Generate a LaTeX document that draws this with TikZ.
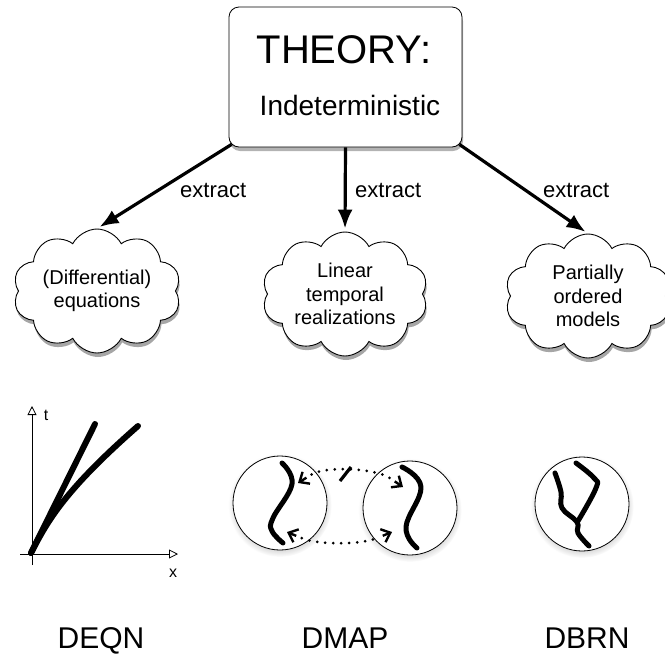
\documentclass[tikz,border=0pt]{standalone}
\usepackage{fontspec}
\setmainfont{Liberation Sans}
\usepackage{tikz}
\usetikzlibrary{arrows,arrows.meta,positioning,shapes,shapes.symbols,shadows,calc}

\begin{document}
\begin{tikzpicture}[x = 1pt, y = -1pt,
  bigarrow/.style = {line width = 3.2pt, -{Latex[length = 19pt, width = 15pt]}},
  tag/.style = {font = \fontsize{22}{22}\selectfont, anchor = base west, inner sep = 0pt},
  idea/.style = {cloud, cloud puffs = 10, cloud puff arc = 125, cloud ignores aspect, draw, line width = .9pt, fill = white,
    minimum width = 166pt, minimum height = 124pt, align = center,
    font = \fontsize{20}{23.5}\selectfont,
    drop shadow = {shadow xshift = 1pt, shadow yshift = -4pt, opacity = .7}},
  world/.style = {circle, draw, line width = .8pt, fill = white, minimum size = 94pt, inner sep = 0pt,
    circular drop shadow = {shadow xshift = 0pt, shadow yshift = -2pt, shadow scale = 1.1, opacity = .3}},
  strand/.style = {line width = 5pt, line cap = round, line join = round},
  axisline/.style = {line width = .8pt, -{Triangle[open, length = 9pt, width = 9pt]}},
  link/.style = {line width = 3pt, dash pattern = on 0pt off 8pt, line cap = round},
  barb/.style = {line width = 2.4pt, -{Straight Barb[length = 8pt, width = 14pt]}},
  title/.style = {font = \fontsize{30}{30}\selectfont, anchor = base, inner sep = 0pt}]
\useasboundingbox (0,0) rectangle (665,654);

% theory box
\node[draw, rounded corners = 10pt, line width = .8pt, fill = white, minimum width = 233pt,
  minimum height = 140pt, drop shadow = {shadow xshift = 1pt, shadow yshift = -4pt, opacity = .6}]
  (theory) at (345.5,77) {};
\node[font = \fontsize{40}{40}\selectfont, anchor = base, inner sep = 0pt] (theorytitle) at (344,63) {THEORY:};
\node[font = \fontsize{28}{28}\selectfont, anchor = base, inner sep = 0pt] (theorysub) at (350,115) {Indeterministic};

% clouds
\node[idea] (eqcloud) at (97,291) {(Differential)\\equations};
\node[idea] (ltcloud) at (345,294) {Linear\\temporal\\realizations};
\node[idea] (pocloud) at (588,296) {Partially\\ordered\\models};

\draw[bigarrow, shorten > = 3pt] ($(theory.south west)+(3,-3)$) -- (eqcloud.north);
\draw[bigarrow, shorten > = 3pt] (theory.south) -- (ltcloud.north);
\draw[bigarrow, shorten > = 3pt] ($(theory.south east)+(-3,-3)$) -- (pocloud.north);
\node[tag] (extractl) at (180,197) {extract};
\node[tag] (extractm) at (355,197) {extract};
\node[tag] (extractr) at (543,197) {extract};

% DEQN
\coordinate (orig) at (31,553);
\coordinate (tbot) at (32,565);
\coordinate (ttop) at (32,406);
\coordinate (xleft) at (20,554);
\coordinate (xright) at (178,554);
\draw[axisline] (tbot) -- (ttop);
\draw[axisline] (xleft) -- (xright);
\node[font = \fontsize{16}{16}\selectfont, anchor = base, inner sep = 0pt] (tlabel) at (46,420) {t};
\node[font = \fontsize{16}{16}\selectfont, anchor = base, inner sep = 0pt] (xlabel) at (173,577) {x};
\draw[strand, line width = 6pt] (orig) -- (95,424);
\draw[strand, line width = 6pt] (orig) .. controls (48,520) and (65,490) .. (138,426);

% DMAP
\node[world] (mapleft) at (280,503) {};
\node[world] (mapright) at (410,508) {};
\draw[strand] plot[smooth, tension = .7] coordinates {(282,463) (292,484) (273,518) (272,531) (283,543)};
\draw[strand] plot[smooth, tension = .7] coordinates {(402,467) (421,487) (406,527) (417,548)};
\coordinate (lefttop) at (298,483);
\coordinate (righttop) at (403,487);
\coordinate (leftbot) at (287,532);
\coordinate (rightbot) at (392,532);
\draw[link] ($(lefttop)!16pt!(325,466)$) .. controls (325,466) and (375,468) .. ($(righttop)!16pt!(375,468)$);
\draw[link] ($(leftbot)!16pt!(318,545)$) .. controls (318,545) and (360,545) .. ($(rightbot)!16pt!(360,545)$);
\draw[barb] ($(lefttop)!10pt!(325,466)$) -- (lefttop);
\draw[barb] ($(righttop)!10pt!(375,468)$) -- (righttop);
\draw[barb] ($(leftbot)!10pt!(318,545)$) -- (leftbot);
\draw[barb] ($(rightbot)!10pt!(360,545)$) -- (rightbot);
\draw[line width = 3.2pt] (340,481) -- (351,467);

% DBRN
\node[world] (brn) at (582,504) {};
\draw[strand] plot[smooth, tension = .7] coordinates {(555,473) (561,492) (562,508) (577,522) (578,533) (589,546)};
\draw[strand] plot[smooth, tension = .7] coordinates {(576,463) (594,478) (596,488) (578,521)};

% names
\node[title] (deqn) at (101,648) {DEQN};
\node[title] (dmap) at (345,648) {DMAP};
\node[title] (dbrn) at (587,648) {DBRN};
\end{tikzpicture}
\end{document}
